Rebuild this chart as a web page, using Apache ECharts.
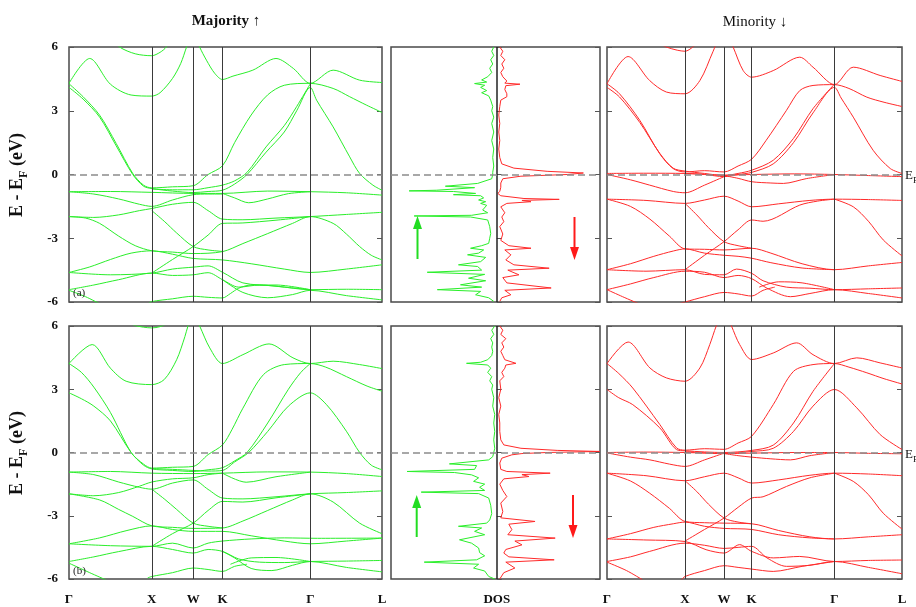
<!DOCTYPE html>
<html><head><meta charset="utf-8">
<script src="https://cdn.jsdelivr.net/npm/echarts@6/dist/echarts.min.js"></script>
<style>html,body{margin:0;padding:0;background:#fff}#c{width:916px;height:607px}</style>
</head><body><div id="c"></div>
<script>
// ---- high-symmetry path (fcc): Γ-X-W-K-Γ-L, cumulative k distance ----
const kTicks = [0, 1, 1.5, 1.8536, 2.9142, 3.7802];
const kLabels = ['Γ', 'X', 'W', 'K', 'Γ', 'L'];
const eTicks = [-6, -3, 0, 3, 6];

// ---- Majority, panel (a): bands as [k, E] ----
const majA = [
 [[0,4.29],[0.25,5.46],[0.5,4.25],[0.75,3.74],[1.0,3.69],[1.1,3.85],[1.25,4.52],[1.35,5.23],[1.42,6.0],[1.5,6.8],[1.578,6.0],[1.66,5.38],[1.76,4.76],[1.8536,4.47],[1.98,4.63],[2.22,4.91],[2.5,5.46],[2.71,4.99],[2.9142,4.29],[3.19,4.91],[3.51,4.44],[3.7802,4.33]],
 [[0.45,6.6],[0.61,6.0],[0.8,5.68],[1.0,5.59],[1.1,5.75],[1.176,6.0],[1.3,6.7]],
 [[0,4.27],[0.17,3.66],[0.37,2.79],[0.57,1.46],[0.77,0.05],[0.9,-0.5],[1.0,-0.63],[1.25,-0.58],[1.5,-0.53],[1.68,0.0],[1.8536,0.41],[2.0,1.5],[2.2,2.8],[2.4,3.75],[2.6,4.2],[2.9142,4.29],[3.19,4.05],[3.39,3.66],[3.59,3.27],[3.7802,2.92]],
 [[0,4.1],[0.17,3.55],[0.37,2.7],[0.57,1.35],[0.77,0.0],[0.9,-0.55],[1.0,-0.66],[1.25,-0.78],[1.5,-0.85],[1.68,-0.8],[1.8536,-0.74],[2.0,-0.45],[2.15,0.0],[2.38,1.05],[2.6,2.0],[2.75,3.0],[2.9142,4.1],[2.99,3.5],[3.19,2.24],[3.39,0.83],[3.51,0.05],[3.67,-0.5],[3.7802,-0.74]],
 [[1.0,-0.68],[1.25,-0.72],[1.5,-0.72],[1.68,-0.62],[1.8536,-0.5],[2.0,-0.3],[2.15,0.1],[2.38,1.3],[2.6,2.3],[2.75,3.2],[2.9142,4.27]],
 [[0,-0.81],[0.5,-0.8],[1.0,-0.84],[1.5,-0.89],[1.8536,-0.89],[2.4,-0.78],[2.9142,-0.81],[3.35,-0.86],[3.7802,-0.97]],
 [[1.8536,-0.89],[2.0,-1.1],[2.17,-1.33],[2.4,-1.15],[2.65,-0.9],[2.9142,-0.81]],
 [[0,-0.81],[0.3,-0.92],[0.6,-1.15],[0.85,-1.4],[1.0,-1.5],[1.25,-1.2],[1.5,-0.95],[1.68,-0.92],[1.8536,-0.92]],
 [[0,-1.98],[0.3,-2.02],[0.6,-1.9],[0.85,-1.7],[1.0,-1.6],[1.25,-1.4],[1.5,-1.31],[1.68,-1.7],[1.8536,-2.1],[2.1,-2.13],[2.5,-2.05],[2.9142,-1.98],[3.35,-1.88],[3.7802,-1.78]],
 [[1.0,-1.7],[1.15,-2.2],[1.3,-2.75],[1.5,-3.39],[1.68,-3.55],[1.8536,-3.62]],
 [[1.0,-4.64],[1.25,-4.0],[1.5,-3.39],[1.68,-2.85],[1.8536,-2.3],[2.1,-2.28],[2.5,-2.15],[2.9142,-1.98]],
 [[0,-1.98],[0.2,-2.05],[0.37,-2.3],[0.6,-2.9],[0.8,-3.35],[1.0,-3.59],[1.25,-3.65],[1.5,-3.72],[1.8536,-3.63],[2.1,-3.25],[2.4,-2.78],[2.7,-2.3],[2.9142,-1.98],[3.19,-2.3],[3.35,-2.8],[3.51,-3.39],[3.65,-3.8],[3.7802,-4.02]],
 [[0,-4.61],[0.25,-4.35],[0.5,-4.0],[0.75,-3.7],[1.0,-3.59],[1.25,-3.75],[1.5,-3.95],[1.8536,-4.02],[2.2,-4.2],[2.6,-4.45],[2.9142,-4.61],[3.35,-4.45],[3.7802,-4.25]],
 [[0,-4.61],[0.5,-4.72],[1.0,-4.64],[1.25,-4.45],[1.5,-4.36],[1.68,-4.3],[1.8536,-4.6],[2.1,-5.1],[2.5,-5.25],[2.9142,-5.42],[3.35,-5.4],[3.7802,-5.42]],
 [[0,-5.42],[0.3,-5.2],[0.6,-4.95],[1.0,-4.64],[1.25,-4.75],[1.5,-4.72],[1.68,-4.62],[1.8536,-4.95],[2.05,-5.3],[2.3,-5.2],[2.6,-5.3],[2.9142,-5.42]],
 [[1.8536,-4.95],[2.1,-5.55],[2.4,-5.8],[2.7,-5.65],[2.9142,-5.45],[3.35,-5.7],[3.7802,-5.9]],
 [[0.95,-6.1],[1.0,-5.98],[1.25,-5.85],[1.5,-5.73],[1.68,-5.78],[1.8536,-5.81],[1.95,-5.6],[2.05,-5.35],[2.2,-5.2],[2.5,-5.2],[2.9142,-5.42]],
 [[0,-5.45],[0.2,-5.75],[0.38,-6.1]]
];

// ---- Majority, panel (b) ----
const majB = [
 [[0,4.22],[0.28,5.12],[0.5,4.0],[0.69,3.38],[1.0,3.22],[1.15,3.46],[1.3,4.4],[1.4,5.5],[1.437,6.0],[1.5,6.6],[1.578,6.0],[1.7,4.96],[1.8536,4.22],[2.1,4.64],[2.416,5.15],[2.705,4.49],[2.9142,4.22],[3.19,4.33],[3.51,4.17],[3.7802,3.98]],
 [[0.7,6.2],[0.8,6.02],[1.0,5.91],[1.1,5.97],[1.2,6.15]],
 [[0,4.22],[0.15,3.8],[0.3,3.1],[0.5,1.9],[0.75,0.0],[0.9,-0.55],[1.0,-0.74],[1.25,-0.7],[1.5,-0.66],[1.68,-0.1],[1.8536,0.36],[1.97,1.1],[2.1,2.1],[2.35,3.7],[2.6,4.17],[2.9142,4.22],[3.1,4.05],[3.35,3.6],[3.6,3.15],[3.7802,2.91]],
 [[0,2.83],[0.15,2.55],[0.3,2.2],[0.5,1.5],[0.75,0.0],[0.9,-0.6],[1.0,-0.78],[1.25,-0.85],[1.5,-0.9],[1.68,-0.82],[1.8536,-0.72],[2.0,-0.4],[2.15,0.0],[2.4,1.4],[2.65,3.0],[2.8,3.8],[2.9142,4.22]],
 [[1.0,-0.76],[1.25,-0.8],[1.5,-0.85],[1.68,-0.88],[1.8536,-0.85],[2.0,-0.45],[2.17,0.0],[2.4,1.0],[2.65,2.2],[2.9142,2.83],[3.11,2.27],[3.35,1.01],[3.51,0.0],[3.65,-0.6],[3.7802,-0.82]],
 [[0,-0.93],[0.5,-0.9],[1.0,-0.98],[1.5,-1.0],[1.8536,-0.98],[2.4,-0.92],[2.9142,-0.93],[3.35,-1.0],[3.7802,-1.14]],
 [[1.8536,-0.98],[2.14,-1.41],[2.5,-1.15],[2.9142,-0.93]],
 [[0,-0.93],[0.3,-1.05],[0.6,-1.4],[0.85,-1.65],[1.0,-1.74],[1.25,-1.45],[1.5,-1.3],[1.68,-1.75],[1.8536,-2.16],[2.1,-2.2],[2.5,-2.1],[2.9142,-1.96],[3.35,-1.9],[3.7802,-1.82]],
 [[0,-1.96],[0.3,-2.05],[0.6,-1.9],[0.85,-1.6],[1.0,-1.4],[1.25,-1.25],[1.5,-1.2],[1.68,-1.05],[1.8536,-0.98]],
 [[1.0,-1.74],[1.15,-2.2],[1.3,-2.7],[1.5,-3.35],[1.68,-3.5],[1.8536,-3.58]],
 [[1.0,-4.45],[1.25,-3.85],[1.5,-3.35],[1.68,-2.75],[1.8536,-2.32],[2.1,-2.35],[2.5,-2.15],[2.9142,-1.96]],
 [[0,-1.96],[0.37,-2.25],[0.6,-2.7],[0.77,-3.03],[1.0,-3.48],[1.25,-3.55],[1.5,-3.6],[1.8536,-3.58],[2.1,-3.25],[2.4,-2.75],[2.7,-2.25],[2.9142,-1.96],[3.19,-2.35],[3.51,-3.35],[3.7802,-3.85]],
 [[0,-4.33],[0.37,-4.05],[0.7,-3.7],[1.0,-3.48],[1.25,-3.65],[1.5,-3.74],[1.8536,-3.74],[2.2,-3.95],[2.6,-4.2],[2.9142,-4.33],[3.35,-4.2],[3.7802,-4.06]],
 [[0,-4.33],[0.5,-4.42],[1.0,-4.45],[1.25,-4.3],[1.5,-4.53],[1.68,-4.3],[1.8536,-4.2],[2.2,-4.1],[2.6,-4.05],[3.0,-4.07],[3.7802,-4.06]],
 [[0,-5.17],[0.3,-4.95],[0.6,-4.7],[1.0,-4.45],[1.25,-4.6],[1.5,-4.77],[1.68,-4.6],[1.8536,-4.69],[2.05,-5.05],[2.3,-5.2],[2.6,-5.22],[2.9142,-5.17],[3.35,-5.15],[3.7802,-5.12]],
 [[1.8536,-4.69],[2.0,-5.0],[2.2,-5.5],[2.45,-5.6],[2.7,-5.35],[2.9142,-5.17],[3.35,-5.45],[3.7802,-5.66]],
 [[1.95,-5.3],[2.2,-5.0],[2.5,-4.98],[2.9142,-5.17]],
 [[0.95,-5.95],[1.0,-5.88],[1.25,-5.7],[1.5,-5.48],[1.68,-5.55],[1.8536,-5.64],[2.0,-5.4],[2.15,-5.3]],
 [[0,-5.25],[0.25,-5.7],[0.45,-6.05]]
];

// ---- Minority, panel (a) ----
const minA = [
 [[0,4.27],[0.27,5.55],[0.547,4.42],[0.761,3.88],[1.0,3.8],[1.19,4.42],[1.36,5.8],[1.5,6.9],[1.616,6.0],[1.745,4.89],[1.8536,4.58],[2.13,4.89],[2.47,5.52],[2.64,5.05],[2.9142,4.23],[3.156,5.05],[3.5,4.66],[3.7802,4.38]],
 [[0.6,6.3],[0.76,6.0],[0.9,5.85],[1.0,5.8],[1.1,6.0],[1.25,6.5]],
 [[0,4.27],[0.16,3.8],[0.42,2.55],[0.675,0.98],[0.847,0.28],[1.0,0.12],[1.25,0.18],[1.5,0.12],[1.68,0.4],[1.8536,0.72],[2.04,1.61],[2.3,3.02],[2.47,3.95],[2.64,4.19],[2.9142,4.23],[3.1,4.05],[3.33,3.64],[3.55,3.4],[3.7802,3.2]],
 [[0,4.1],[0.16,3.65],[0.42,2.45],[0.675,1.0],[0.847,0.3],[1.0,0.16],[1.25,0.05],[1.5,-0.05],[1.68,0.05],[1.8536,0.2],[2.13,0.67],[2.39,1.7],[2.64,3.1],[2.9142,4.25]],
 [[1.0,0.05],[1.25,0.0],[1.5,-0.1],[1.68,0.0],[1.8536,0.1],[2.13,0.5],[2.39,1.5],[2.64,2.9],[2.9142,4.1],[3.0,3.6],[3.156,2.7],[3.41,1.14],[3.63,0.28],[3.7802,0.05]],
 [[0,0.05],[0.5,0.06],[1.0,0.05],[1.5,-0.03],[1.8536,0.0],[2.4,0.03],[2.9142,0.0],[3.35,-0.05],[3.7802,-0.1]],
 [[0,0.0],[0.3,-0.25],[0.547,-0.5],[0.85,-0.8],[1.0,-0.86],[1.25,-0.5],[1.5,-0.1]],
 [[1.5,-0.05],[1.68,-0.18],[1.8536,-0.34],[2.1,-0.4],[2.26,-0.42],[2.56,-0.19],[2.9142,0.0]],
 [[0,-1.16],[0.5,-1.22],[1.0,-1.36],[1.25,-1.2],[1.5,-1.02],[1.68,-1.25],[1.8536,-1.52],[2.2,-1.38],[2.6,-1.22],[2.9142,-1.16],[3.35,-1.18],[3.7802,-1.22]],
 [[0,-1.16],[0.3,-1.5],[0.55,-2.1],[0.8,-2.9],[1.0,-3.5],[1.25,-3.52],[1.5,-3.55],[1.8536,-3.47],[2.1,-3.7],[2.5,-4.2],[2.9142,-4.48],[3.35,-4.3],[3.7802,-4.14]],
 [[0,-4.48],[0.3,-4.2],[0.6,-3.85],[0.85,-3.6],[1.0,-3.5],[1.25,-3.7],[1.5,-3.8],[1.68,-3.85],[1.8536,-3.94],[2.1,-4.15],[2.5,-4.4],[2.9142,-4.48]],
 [[1.0,-1.36],[1.15,-1.9],[1.3,-2.5],[1.5,-3.16],[1.68,-3.35],[1.8536,-3.47]],
 [[1.0,-4.48],[1.25,-3.8],[1.5,-3.16],[1.68,-2.6],[1.8536,-2.14],[2.0,-2.2],[2.47,-1.44],[2.7,-1.25],[2.9142,-1.16]],
 [[2.9142,-1.16],[3.156,-1.52],[3.35,-2.2],[3.54,-3.08],[3.7802,-3.83]],
 [[0,-4.48],[0.5,-4.55],[1.0,-4.48],[1.25,-4.7],[1.5,-4.72],[1.66,-4.45],[1.8536,-4.65],[2.0,-5.0],[2.3,-5.3],[2.6,-5.35],[2.9142,-5.42],[3.35,-5.38],[3.7802,-5.34]],
 [[0,-5.42],[0.3,-5.15],[0.6,-4.85],[1.0,-4.55],[1.25,-4.6],[1.5,-4.85],[1.68,-4.75],[1.8536,-4.9],[2.05,-5.35],[2.35,-5.75],[2.6,-5.6],[2.9142,-5.42],[3.35,-5.6],[3.7802,-5.81]],
 [[1.95,-5.3],[2.2,-5.05],[2.5,-5.1],[2.9142,-5.42]],
 [[0.9,-6.1],[1.0,-6.0],[1.25,-5.75],[1.5,-5.55],[1.68,-5.62],[1.8536,-5.72],[2.0,-5.45],[2.15,-5.3]],
 [[0,-5.42],[0.2,-5.75],[0.42,-6.1]]
];

// ---- Minority, panel (b) ----
const minB = [
 [[0,4.22],[0.27,5.24],[0.55,4.01],[0.76,3.54],[1.0,3.38],[1.19,4.01],[1.317,5.12],[1.4,6.0],[1.5,6.8],[1.595,6.0],[1.7,5.12],[1.8536,4.41],[2.13,4.72],[2.43,5.2],[2.64,4.64],[2.9142,4.22],[3.2,4.49],[3.5,4.25],[3.7802,4.01]],
 [[0,4.22],[0.15,3.75],[0.33,3.06],[0.676,1.33],[0.89,0.22],[1.0,0.11],[1.25,0.18],[1.5,0.15],[1.68,0.45],[1.8536,0.77],[2.13,2.27],[2.39,3.85],[2.64,4.17],[2.9142,4.22],[3.1,4.05],[3.33,3.78],[3.55,3.5],[3.7802,3.25]],
 [[0,2.99],[0.15,2.6],[0.33,2.27],[0.676,1.17],[0.89,0.14],[1.0,0.08],[1.5,0.0],[1.8536,0.1],[2.13,0.35],[2.39,1.4],[2.64,2.9],[2.9142,4.22]],
 [[1.0,0.04],[1.5,-0.05],[1.8536,0.05],[2.13,0.2],[2.39,1.0],[2.64,2.2],[2.9142,2.99],[3.2,2.12],[3.5,0.85],[3.7802,0.14]],
 [[0,0.0],[0.5,0.02],[1.0,0.0],[1.5,-0.05],[1.8536,-0.03],[2.4,0.0],[2.9142,0.0],[3.35,-0.04],[3.7802,-0.06]],
 [[0,-0.02],[0.3,-0.22],[0.55,-0.35],[0.8,-0.55],[1.0,-0.66],[1.25,-0.35],[1.5,-0.03]],
 [[1.5,-0.05],[1.68,-0.15],[1.8536,-0.22],[2.1,-0.3],[2.35,-0.35],[2.6,-0.15],[2.9142,0.0]],
 [[0,-0.98],[0.5,-1.1],[1.0,-1.34],[1.25,-1.15],[1.5,-0.98],[1.68,-1.2],[1.8536,-1.45],[2.2,-1.3],[2.6,-1.08],[2.9142,-0.98],[3.35,-1.02],[3.7802,-1.1]],
 [[0,-0.98],[0.3,-1.35],[0.547,-1.93],[0.8,-2.65],[1.0,-3.27],[1.25,-3.33],[1.5,-3.35],[1.8536,-3.38],[2.2,-3.7],[2.6,-4.0],[2.9142,-4.1],[3.35,-4.0],[3.7802,-3.9]],
 [[0,-4.1],[0.3,-3.85],[0.6,-3.55],[0.85,-3.38],[1.0,-3.3],[1.25,-3.5],[1.5,-3.6],[1.8536,-3.65],[2.2,-3.9],[2.6,-4.05],[2.9142,-4.1]],
 [[1.0,-1.34],[1.15,-1.85],[1.3,-2.45],[1.5,-3.11],[1.68,-3.3],[1.8536,-3.38]],
 [[1.0,-4.2],[1.25,-3.65],[1.5,-3.11],[1.68,-2.6],[1.8536,-2.16],[2.0,-2.1],[2.3,-1.61],[2.6,-1.2],[2.9142,-0.98]],
 [[2.9142,-0.98],[3.156,-1.37],[3.35,-2.0],[3.54,-2.88],[3.7802,-3.63]],
 [[0,-4.1],[0.5,-4.15],[1.0,-4.22],[1.27,-4.61],[1.5,-4.77],[1.7,-4.37],[1.8536,-4.69],[2.13,-5.0],[2.47,-4.93],[2.9142,-5.17],[3.35,-5.12],[3.7802,-5.1]],
 [[0,-5.17],[0.3,-4.95],[0.547,-4.69],[1.0,-4.3],[1.25,-4.4],[1.5,-4.55],[1.68,-4.5],[1.8536,-4.45],[2.05,-5.0],[2.3,-5.4],[2.6,-5.35],[2.9142,-5.17],[3.35,-5.45],[3.7802,-5.75]],
 [[0.95,-6.05],[1.0,-5.88],[1.25,-5.6],[1.5,-5.37],[1.68,-5.45],[1.8536,-5.53],[2.13,-5.64],[2.5,-5.4],[2.9142,-5.17]],
 [[0,-5.2],[0.25,-5.6],[0.46,-6.05]]
];

// ---- DOS: [E (eV), states] ----
const dosUpA = [[6.0,0.3],[5.8,0.5],[5.6,0.3],[5.4,0.6],[5.2,0.4],[5.0,0.7],[4.8,0.5],[4.6,0.9],[4.45,1.5],[4.35,1.0],[4.28,2.2],[4.2,1.2],[4.1,1.6],[3.95,1.0],[3.85,1.5],[3.7,0.8],[3.5,0.6],[3.2,0.4],[3.0,0.5],[2.7,0.3],[2.4,0.5],[2.0,0.3],[1.6,0.5],[1.2,0.3],[0.8,0.4],[0.4,0.3],[0.1,0.4],[0,0.4],[-0.2,0.5],[-0.42,1.9],[-0.55,5.1],[-0.62,2.2],[-0.66,2.1],[-0.74,6.0],[-0.77,8.7],[-0.8,4.3],[-0.89,2.1],[-0.95,4.3],[-1.0,1.6],[-1.1,1.3],[-1.2,1.8],[-1.28,1.1],[-1.36,1.6],[-1.45,1.0],[-1.52,0.9],[-1.67,1.4],[-1.8,0.9],[-1.92,2.5],[-1.95,8.2],[-2.0,2.6],[-2.14,0.9],[-2.45,0.7],[-2.77,0.6],[-3.0,0.7],[-3.24,0.8],[-3.35,1.5],[-3.47,2.6],[-3.55,1.3],[-3.7,1.8],[-3.78,2.9],[-3.9,1.1],[-4.1,1.6],[-4.25,3.8],[-4.33,1.9],[-4.5,1.5],[-4.6,6.9],[-4.7,1.2],[-4.88,2.8],[-5.0,1.1],[-5.19,3.6],[-5.3,1.5],[-5.42,5.9],[-5.5,1.6],[-5.66,2.1],[-5.8,0.8],[-5.97,0.3]];
const dosDnA = [[6.0,0.3],[5.8,0.6],[5.6,0.4],[5.4,0.8],[5.2,0.5],[5.0,0.7],[4.8,0.4],[4.6,0.6],[4.4,1.0],[4.3,0.8],[4.25,2.3],[4.18,0.9],[4.0,0.8],[3.8,1.0],[3.66,1.0],[3.5,0.4],[3.2,0.3],[2.8,0.2],[2.4,0.3],[2.0,0.2],[1.6,0.3],[1.2,0.2],[0.8,0.3],[0.5,0.5],[0.3,1.7],[0.15,5.0],[0.07,8.6],[0.0,7.0],[-0.08,2.4],[-0.2,0.6],[-0.4,0.4],[-0.6,0.4],[-0.8,0.3],[-0.89,0.1],[-1.0,0.4],[-1.13,2.7],[-1.17,6.2],[-1.22,2.5],[-1.28,3.4],[-1.36,1.0],[-1.52,0.4],[-1.8,0.8],[-2.0,0.5],[-2.22,0.7],[-2.45,0.3],[-2.8,0.6],[-3.1,0.4],[-3.35,1.2],[-3.47,3.4],[-3.55,0.8],[-3.78,1.4],[-4.02,0.9],[-4.25,1.7],[-4.41,5.2],[-4.5,1.1],[-4.72,2.2],[-4.85,0.6],[-5.1,1.0],[-5.34,5.4],[-5.45,0.8],[-5.66,1.4],[-5.8,0.5],[-5.97,0.3]];
const dosUpB = [[6.0,0.2],[5.8,0.5],[5.6,0.3],[5.4,0.6],[5.2,0.4],[5.0,0.5],[4.8,0.4],[4.6,0.5],[4.4,0.9],[4.28,1.6],[4.23,3.0],[4.15,0.9],[4.0,0.6],[3.8,0.9],[3.6,0.5],[3.4,0.7],[3.2,0.4],[3.0,0.5],[2.6,0.3],[2.2,0.4],[1.8,0.2],[1.4,0.3],[1.0,0.2],[0.6,0.3],[0.2,0.2],[0,0.3],[-0.2,0.4],[-0.35,0.8],[-0.54,4.7],[-0.62,2.0],[-0.8,2.2],[-0.9,8.9],[-0.95,4.2],[-1.06,2.5],[-1.2,1.8],[-1.37,2.3],[-1.5,1.2],[-1.65,1.7],[-1.8,1.2],[-1.88,7.5],[-1.95,1.8],[-2.16,0.8],[-2.5,0.6],[-2.9,0.5],[-3.2,0.7],[-3.35,1.0],[-3.5,3.8],[-3.58,1.5],[-3.74,2.2],[-3.9,1.2],[-4.14,3.7],[-4.3,2.5],[-4.53,1.8],[-4.75,1.7],[-4.9,1.2],[-5.09,2.0],[-5.2,7.2],[-5.3,1.8],[-5.48,2.3],[-5.62,1.2],[-5.88,0.8],[-6.0,0.2]];
const dosDnB = [[6.0,0.3],[5.8,0.6],[5.6,0.4],[5.4,0.9],[5.2,0.5],[5.0,0.7],[4.8,0.4],[4.6,0.6],[4.4,0.8],[4.23,1.9],[4.15,0.9],[4.0,0.8],[3.8,0.5],[3.6,0.7],[3.4,0.3],[3.0,0.4],[2.6,0.2],[2.2,0.4],[1.8,0.2],[1.4,0.3],[1.0,0.3],[0.6,0.4],[0.36,0.7],[0.2,2.4],[0.1,6.0],[0.05,10.2],[0.0,5.0],[-0.05,2.5],[-0.11,1.5],[-0.27,0.5],[-0.5,0.3],[-0.8,0.4],[-0.9,1.0],[-0.98,5.3],[-1.05,2.5],[-1.14,3.2],[-1.25,0.7],[-1.5,0.3],[-1.8,0.6],[-2.09,1.0],[-2.4,0.4],[-2.8,0.6],[-3.1,0.4],[-3.27,3.8],[-3.4,1.2],[-3.66,1.5],[-3.9,1.1],[-4.06,5.8],[-4.2,1.8],[-4.38,2.5],[-4.6,0.9],[-4.77,0.7],[-4.95,1.2],[-5.09,5.7],[-5.2,0.9],[-5.48,1.8],[-5.7,0.7],[-6.0,0.3]];

// ---------------- build chart ----------------
const GREEN = '#2aee2a', RED = '#ff2a2a';
const SERIF = 'Liberation Serif';
const chart = echarts.init(document.getElementById('c'), null, {renderer: 'canvas'});

const grids = [
  {left: 69, top: 47, width: 313, height: 255},
  {left: 391, top: 47, width: 209, height: 255},
  {left: 607, top: 47, width: 295, height: 255},
  {left: 69, top: 326, width: 313, height: 253},
  {left: 391, top: 326, width: 209, height: 253},
  {left: 607, top: 326, width: 295, height: 253}
].map(g => Object.assign({show: true, borderColor: '#4a4a4a', borderWidth: 1.5, backgroundColor: 'transparent', containLabel: false}, g));

const isDos = i => i === 1 || i === 4;
const isBottom = i => i >= 3;
const labelFor = v => { let b = 0; kTicks.forEach((t, j) => { if (Math.abs(t - v) < Math.abs(kTicks[b] - v)) b = j; }); return kLabels[b]; };

const xAxes = [], yAxes = [];
grids.forEach((g, i) => {
  const x = {
    gridIndex: i, type: 'value',
    min: isDos(i) ? -10.5 : 0, max: isDos(i) ? 10.25 : kTicks[kTicks.length - 1],
    axisLine: {show: false}, splitLine: {show: false}, axisTick: {show: false},
    axisLabel: {show: false}
  };
  if (isBottom(i)) {
    x.axisLabel = {
      show: true, margin: 14, fontFamily: SERIF, fontWeight: 'bold', fontSize: 13, color: '#111',
      customValues: isDos(i) ? [0] : kTicks,
      formatter: v => isDos(i) ? 'DOS' : labelFor(v)
    };
  }
  xAxes.push(x);
  const tick = {show: true, inside: true, length: 5, lineStyle: {color: '#555', width: 1}};
  yAxes.push({
    gridIndex: i, type: 'value', min: -6, max: 6, interval: 3, position: 'left',
    axisLine: {show: false}, splitLine: {show: false}, axisTick: tick,
    axisLabel: (i === 0 || i === 3) ? {show: true, margin: 11, fontFamily: SERIF, fontWeight: 'bold', fontSize: 13, color: '#111'} : {show: false}
  });
  yAxes.push({
    gridIndex: i, type: 'value', min: -6, max: 6, interval: 3, position: 'right',
    axisLine: {show: false}, splitLine: {show: false}, axisTick: tick, axisLabel: {show: false}
  });
});

const guideLines = (dos) => {
  const d = [];
  if (dos) d.push({xAxis: 0, lineStyle: {color: '#222', width: 1.5, type: 'solid'}});
  else kTicks.slice(1, 5).forEach(k => d.push({xAxis: k, lineStyle: {color: '#3a3a3a', width: 1, type: 'solid'}}));
  d.push({yAxis: 0, lineStyle: {color: '#8c8c8c', width: 1.5, type: [7, 4]}});
  return {silent: true, symbol: 'none', label: {show: false}, animation: false, data: d};
};

const series = [];
const bandSets = [[0, majA, GREEN], [2, minA, RED], [3, majB, GREEN], [5, minB, RED]];
bandSets.forEach(([gi, bands, col]) => {
  bands.forEach((b, j) => {
    const s = {
      type: 'line', xAxisIndex: gi, yAxisIndex: gi * 2, data: b,
      showSymbol: false, symbol: 'none', smooth: 0.3,
      lineStyle: {color: col, width: 1}, silent: true, clip: true, z: 3
    };
    if (j === 0) s.markLine = guideLines(false);
    series.push(s);
  });
});
const dosSets = [[1, dosUpA, -1, GREEN], [1, dosDnA, 1, RED], [4, dosUpB, -1, GREEN], [4, dosDnB, 1, RED]];
dosSets.forEach(([gi, arr, sgn, col], j) => {
  const s = {
    type: 'line', xAxisIndex: gi, yAxisIndex: gi * 2,
    data: arr.map(p => [sgn * p[1], p[0]]),
    showSymbol: false, symbol: 'none', smooth: false,
    lineStyle: {color: col, width: 1}, silent: true, clip: true, z: 3
  };
  if (sgn < 0) s.markLine = guideLines(true);
  series.push(s);
});

const arrow = (x, y0, y1, col) => {
  const dir = Math.sign(y1 - y0), head = 13;
  const base = y1 - dir * head;
  return [
    {type: 'line', silent: true, z: 10, shape: {x1: x, y1: y0, x2: x, y2: base}, style: {stroke: col, lineWidth: 2}},
    {type: 'polygon', silent: true, z: 10, shape: {points: [[x - 4.5, base], [x + 4.5, base], [x, y1]]}, style: {fill: col}}
  ];
};
const yName = (cy) => ({
  type: 'text', x: 17, y: cy, rotation: Math.PI / 2, silent: true, z: 10,
  style: {
    text: '{a|E - E}{s|F}{a| (eV)}', align: 'center', verticalAlign: 'middle',
    rich: {
      a: {fontFamily: SERIF, fontWeight: 'bold', fontSize: 18, fill: '#111', lineHeight: 26, verticalAlign: 'middle'},
      s: {fontFamily: SERIF, fontWeight: 'bold', fontSize: 12, fill: '#111', lineHeight: 26, verticalAlign: 'bottom', padding: [10, 0, 0, 0]}
    }
  }
});
const efLabel = (cy) => ({
  type: 'text', x: 905, y: cy, silent: true, z: 10,
  style: {
    text: '{a|E}{s|F}', align: 'left', verticalAlign: 'middle',
    rich: {
      a: {fontFamily: SERIF, fontSize: 13, fill: '#111', lineHeight: 18},
      s: {fontFamily: SERIF, fontSize: 9, fill: '#111', lineHeight: 18, verticalAlign: 'bottom', padding: [7, 0, 0, 0]}
    }
  }
});

const graphic = [
  {type: 'text', x: 226, y: 21, silent: true, style: {text: 'Majority ↑', font: 'bold 15px "Liberation Serif"', fill: '#111', align: 'center', verticalAlign: 'middle'}},
  {type: 'text', x: 755, y: 22, silent: true, style: {text: 'Minority ↓', font: '15px "Liberation Serif"', fill: '#111', align: 'center', verticalAlign: 'middle'}},
  yName(175), yName(453),
  efLabel(176), efLabel(455),
  {type: 'text', x: 73, y: 293, silent: true, z: 10, style: {text: '(a)', font: '11px "Liberation Serif"', fill: '#222', align: 'left', verticalAlign: 'middle'}},
  {type: 'text', x: 73, y: 571, silent: true, z: 10, style: {text: '(b)', font: '11px "Liberation Serif"', fill: '#222', align: 'left', verticalAlign: 'middle'}},
  ...arrow(417.5, 259, 216, '#22dd22'),
  ...arrow(574.5, 217, 260, '#ff1a1a'),
  ...arrow(416.7, 537, 495, '#22dd22'),
  ...arrow(573, 495, 538, '#ff1a1a')
];

chart.setOption({
  animation: false,
  backgroundColor: '#fff',
  grid: grids, xAxis: xAxes, yAxis: yAxes, series, graphic
});
</script></body></html>
